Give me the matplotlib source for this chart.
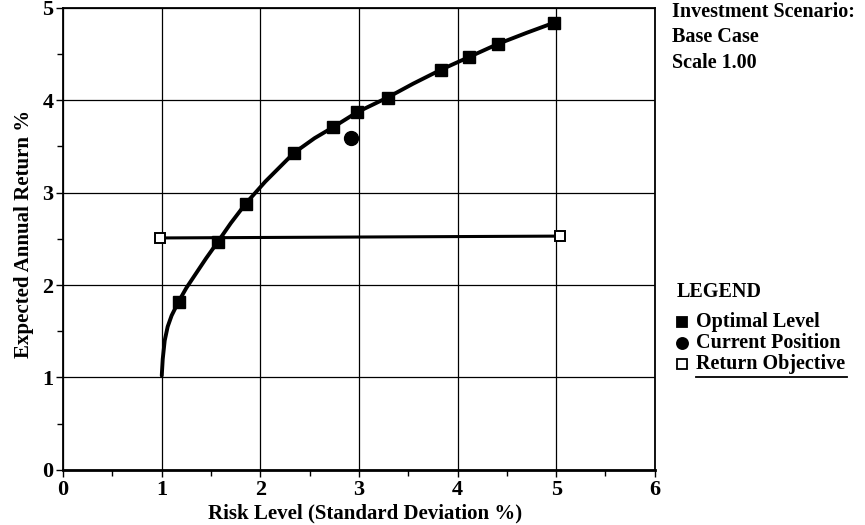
import matplotlib.pyplot as plt
from matplotlib.ticker import MultipleLocator

plt.rcParams['font.family'] = ['Liberation Serif', 'DejaVu Serif']
plt.rcParams['font.weight'] = 'bold'
plt.rcParams['axes.labelweight'] = 'bold'

# frontier curve
curve_x = [1.00, 1.01, 1.03, 1.06, 1.10, 1.17, 1.25, 1.35, 1.45, 1.57, 1.70, 1.85, 2.05, 2.34,
           2.55, 2.74, 2.98, 3.29, 3.55, 3.83, 4.12, 4.41, 4.70, 4.98]
curve_y = [1.02, 1.20, 1.40, 1.55, 1.67, 1.82, 1.97, 2.13, 2.29, 2.47, 2.67, 2.88, 3.12, 3.43,
           3.59, 3.71, 3.87, 4.03, 4.18, 4.33, 4.47, 4.61, 4.73, 4.84]

# optimal level points
opt_x = [1.17, 1.57, 1.85, 2.34, 2.74, 2.98, 3.29, 3.83, 4.12, 4.41, 4.98]
opt_y = [1.82, 2.47, 2.88, 3.43, 3.71, 3.87, 4.03, 4.33, 4.47, 4.61, 4.84]

# current position
cur_x = [2.92]
cur_y = [3.59]

# return objective
obj_x = [0.98, 5.04]
obj_y = [2.51, 2.53]

fig = plt.figure(figsize=(8.65, 5.25), dpi=100)
ax = fig.add_axes([0.073, 0.105, 0.684, 0.88])

ax.plot(curve_x, curve_y, color='black', lw=2.8, solid_capstyle='round',
        solid_joinstyle='round', zorder=3)
ax.plot(opt_x, opt_y, 's', color='black', ms=8.5, zorder=4)
ax.plot(cur_x, cur_y, 'o', color='black', ms=10, zorder=4)
ax.plot(obj_x, obj_y, color='black', lw=2.2, zorder=3)
ax.plot(obj_x, obj_y, 's', mfc='white', mec='black', mew=1.4, ms=7.5, zorder=5)

ax.set_xlim(0, 6)
ax.set_ylim(0, 5)
ax.xaxis.set_major_locator(MultipleLocator(1))
ax.xaxis.set_minor_locator(MultipleLocator(0.5))
ax.yaxis.set_major_locator(MultipleLocator(1))
ax.yaxis.set_minor_locator(MultipleLocator(0.5))
ax.tick_params(which='both', direction='out', color='black', width=1.0)
ax.tick_params(which='major', length=5, labelsize=16, pad=2)
ax.tick_params(which='minor', length=4)
ax.grid(True, which='major', color='black', lw=0.9)
for s in ax.spines.values():
    s.set_linewidth(1.3)
ax.spines['bottom'].set_linewidth(2.0)

ax.set_xlabel('Risk Level (Standard Deviation %)', fontsize=15)
ax.set_ylabel('Expected Annual Return %', fontsize=15)
ax.xaxis.set_label_coords(0.51, -0.072)
ax.yaxis.set_label_coords(-0.05, 0.51)

side_fs = 14.5
fig.text(0.777, 0.978, 'Investment Scenario:', fontsize=side_fs, va='center', ha='left')
fig.text(0.777, 0.93, 'Base Case', fontsize=side_fs, va='center', ha='left')
fig.text(0.777, 0.88, 'Scale 1.00', fontsize=side_fs, va='center', ha='left')

fig.text(0.782, 0.443, 'LEGEND', fontsize=side_fs, va='center', ha='left')
leg_items = [('s', 'black', 'Optimal Level', 0.387),
             ('o', 'black', 'Current Position', 0.347),
             ('s', 'white', 'Return Objective', 0.307)]
for mk, fc, lab, yy in leg_items:
    fig.add_artist(plt.Line2D([0.789], [yy], marker=mk, mfc=fc, mec='black', mew=1.3,
                              ms=7 if mk == 's' else 8, transform=fig.transFigure))
    fig.text(0.805, yy, lab, fontsize=side_fs, va='center', ha='left')
fig.add_artist(plt.Line2D([0.805, 0.979], [0.282, 0.282], color='black', lw=1.3,
                          transform=fig.transFigure))

fig.savefig('out.png', dpi=100)
